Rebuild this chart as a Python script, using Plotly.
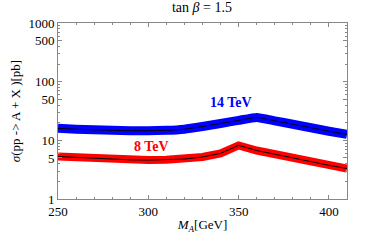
import plotly.graph_objects as go
import numpy as np

mass = [250, 260, 270, 280, 290, 300, 310, 320, 330, 340, 350, 360, 370, 380, 390, 400, 410]
sigma14 = [16.0, 15.5, 15.1, 14.8, 14.6, 14.6, 14.8, 15.5, 17.2, 19.4, 21.9, 24.6, 21.5, 18.8, 16.4, 14.3, 12.6]
sigma8 = [5.3, 5.1, 4.9, 4.75, 4.65, 4.6, 4.65, 4.8, 5.2, 6.0, 8.2, 6.7, 5.8, 5.0, 4.3, 3.75, 3.3]

yticks = [1, 5, 10, 50, 100, 500, 1000]
yminor = [v * m for v in [1, 10, 100] for m in range(2, 10) if v * m not in yticks]

serif = "Liberation Serif"
fig = go.Figure()
fig.add_trace(go.Scatter(x=mass, y=sigma14, mode="lines", line=dict(color="#0000ff", width=9, shape="spline", smoothing=0.4), showlegend=False))
fig.add_trace(go.Scatter(x=mass, y=sigma14, mode="lines", line=dict(color="black", width=1, shape="spline", smoothing=0.4), showlegend=False))
fig.add_trace(go.Scatter(x=mass, y=sigma8, mode="lines", line=dict(color="#ff0000", width=8), showlegend=False))
fig.add_trace(go.Scatter(x=mass, y=sigma8, mode="lines", line=dict(color="black", width=1), showlegend=False))

fig.add_annotation(x=346, y=np.log10(45), text="<b>14 TeV</b>", showarrow=False,
                   font=dict(family=serif, size=14, color="#0000ff"))
fig.add_annotation(x=302, y=np.log10(8.0), text="<b>8 TeV</b>", showarrow=False,
                   font=dict(family=serif, size=14, color="#ff0000"))

fig.update_layout(
    width=374, height=243,
    margin=dict(l=58, r=27, t=23, b=44, autoexpand=False),
    paper_bgcolor="white", plot_bgcolor="white",
    font=dict(family=serif, size=12, color="black"),
    title=dict(text="tan <i>β</i> = 1.5", x=0.54, xanchor="center", y=0.99, yanchor="top",
               font=dict(family=serif, size=14)),
    xaxis=dict(range=[250, 410], tickvals=[250, 300, 350, 400], ticks="inside", ticklen=4,
               showline=True, linecolor="#888", mirror="ticks", showgrid=False, zeroline=False,
               tickcolor="#888", tickfont=dict(size=13), automargin=False,
               minor=dict(dtick=10, ticks="inside", ticklen=2, tickcolor="#888"),
               title=dict(text="<i>M<sub>A</sub></i>[GeV]", font=dict(size=13), standoff=2)),
    yaxis=dict(type="log", range=[0, 3], tickvals=yticks, ticktext=[str(v) for v in yticks],
               ticks="inside", ticklen=4, showline=True, linecolor="#888", mirror="ticks",
               showgrid=False, zeroline=False, tickcolor="#888", tickfont=dict(size=13),
               automargin=False,
               minor=dict(tickvals=yminor, ticks="inside", ticklen=2, tickcolor="#888"),
               title=dict(text="<i>σ</i>(pp -> A + X )[pb]", font=dict(size=13), standoff=4)),
)
fig.write_html("out.html", config={"displayModeBar": False},
               post_script="document.body.style.margin='0';document.body.style.overflow='hidden';")
